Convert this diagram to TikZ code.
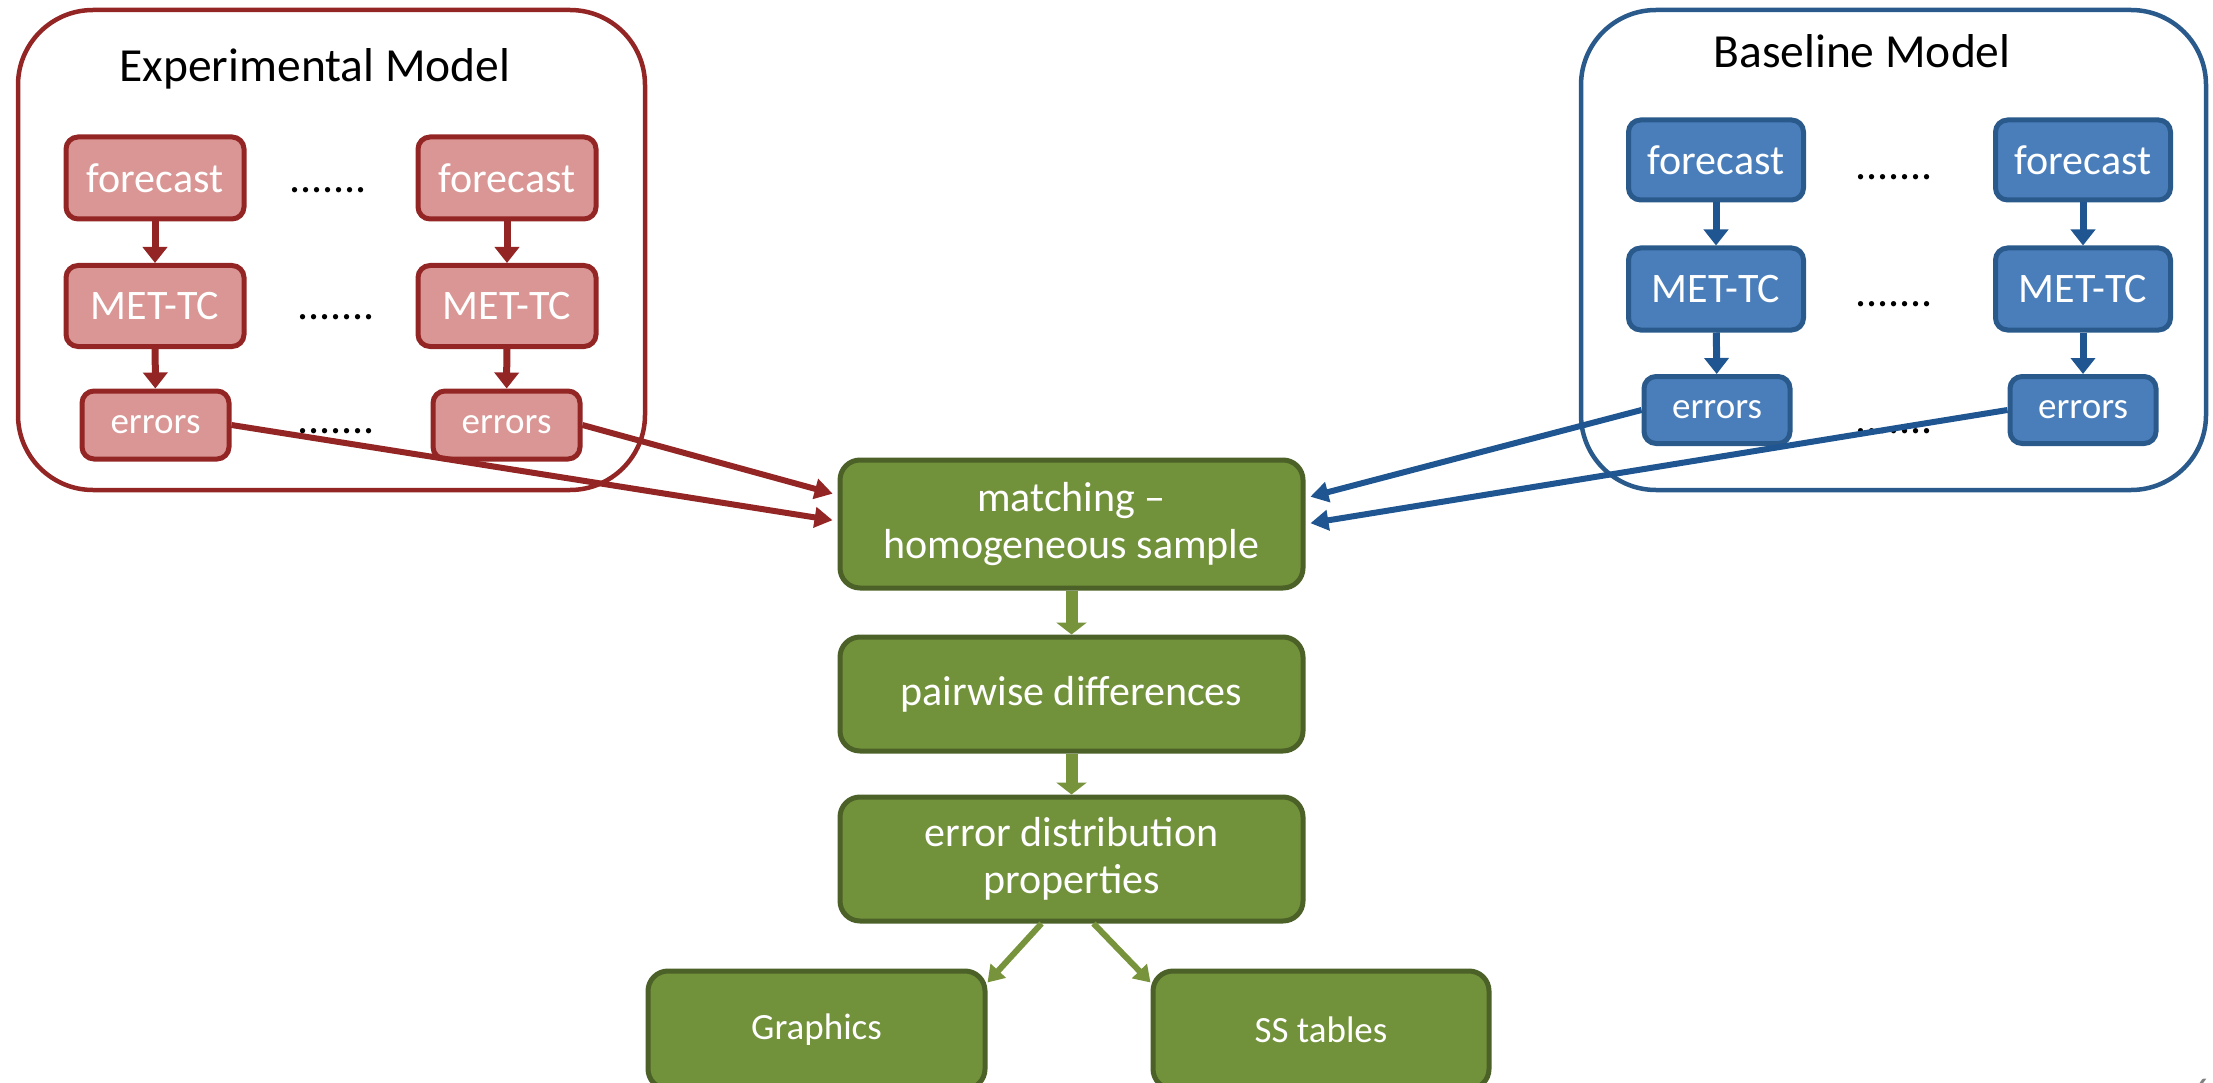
\documentclass[tikz,border=0pt]{standalone}
\usepackage{fontspec}
\setmainfont{Carlito}
\usetikzlibrary{arrows.meta}
\definecolor{redFill}{HTML}{D99694}
\definecolor{redLine}{HTML}{932525}
\definecolor{blueFill}{HTML}{4A7EBB}
\definecolor{blueLine}{HTML}{2A5A8C}
\definecolor{blueArrow}{HTML}{1F5590}
\definecolor{greenFill}{HTML}{71913A}
\definecolor{greenLine}{HTML}{4B6128}
\definecolor{greenArrow}{HTML}{77933C}
\begin{document}
\begin{tikzpicture}[x=1pt,y=-1pt,
  frame/.style={line width=4.5pt, rounded corners=75pt},
  smallbox/.style={line width=5pt, rounded corners=12pt, text=white, inner sep=0pt},
  redbox/.style={smallbox, draw=redLine, fill=redFill},
  bluebox/.style={smallbox, draw=blueLine, fill=blueFill},
  greenbox/.style={draw=greenLine, fill=greenFill, line width=5pt, rounded corners=20pt, text=white, inner sep=0pt, align=center, minimum width=463pt, font=\fontsize{42}{47}\selectfont},
  fcbox/.style={minimum width=178pt, minimum height=82pt, font=\fontsize{42}{50}\selectfont},
  erbox/.style={minimum width=147pt, minimum height=68pt, font=\fontsize{37}{45}\selectfont},
  title/.style={anchor=base, font=\fontsize{47.5}{56}\selectfont},
  dots/.style={font=\fontsize{44}{50}\selectfont, inner sep=0pt},
  redarrow/.style={draw=redLine, line width=7pt, -{Triangle[length=16pt,width=24pt]}},
  bluearrow/.style={draw=blueArrow, line width=7pt, -{Triangle[length=16pt,width=24pt]}},
  redconn/.style={draw=redLine, line width=6pt, -{Triangle[length=18pt,width=20pt]}, shorten >=5pt},
  blueconn/.style={draw=blueArrow, line width=6pt, -{Triangle[length=18pt,width=20pt]}, shorten >=5pt},
  greenarrow/.style={draw=greenArrow, line width=12pt, -{Triangle[length=12pt,width=30pt]}},
  greendiag/.style={draw=greenArrow, line width=6pt, -{Triangle[length=16pt,width=20pt]}}
]
\useasboundingbox (0,0) rectangle (2213,1083);

% model frames
\draw[frame, draw=redLine] (18,10) rectangle (645,490);
\draw[frame, draw=blueLine] (1581,10) rectangle (2206,490);
\node[title] (tExp) at (315,82) {Experimental Model};
\node[title] (tBase) at (1862,68) {Baseline Model};

% experimental model boxes
\node[redbox, fcbox] (fL) at (155,178) {forecast};
\node[redbox, fcbox] (fR) at (507,178) {forecast};
\node[redbox, fcbox, minimum height=81pt] (mL) at (155,306) {MET-TC};
\node[redbox, fcbox, minimum height=81pt] (mR) at (507,306) {MET-TC};
\node[redbox, erbox] (eL) at (155.5,425) {errors};
\node[redbox, erbox] (eR) at (506.5,425) {errors};
\node[dots] (d1) at (328,190) {.......};
\node[dots] (d2) at (336,317) {.......};
\node[dots] (d3) at (336,431) {.......};

% baseline model boxes
\node[bluebox, fcbox, minimum width=175pt, minimum height=80pt] (bfL) at (1716,160) {forecast};
\node[bluebox, fcbox, minimum width=175pt, minimum height=80pt] (bfR) at (2083,160) {forecast};
\node[bluebox, fcbox, minimum width=175pt, minimum height=82pt] (bmL) at (1716,289) {MET-TC};
\node[bluebox, fcbox, minimum width=175pt, minimum height=82pt] (bmR) at (2083,289) {MET-TC};
\node[bluebox, erbox, minimum width=146pt, minimum height=67pt] (beL) at (1717,410) {errors};
\node[bluebox, erbox, minimum width=146pt, minimum height=67pt] (beR) at (2083,410) {errors};
\node[dots] (bd1) at (1894,177) {.......};
\node[dots] (bd2) at (1894,304) {.......};
\node[dots] (bd3) at (1894,431) {.......};

% green pipeline
\node[greenbox, minimum height=128pt] (match) at (1071.5,524) {matching --\\homogeneous sample};
\node[greenbox, minimum height=114pt] (pair) at (1071.5,694) {pairwise differences};
\node[greenbox, minimum height=124pt] (errd) at (1071.5,859) {error distribution\\properties};
\node[greenbox, minimum width=337pt, minimum height=118pt, font=\fontsize{37}{42}\selectfont] (graph) at (816.5,1030) {Graphics};
\node[greenbox, minimum width=336pt, minimum height=118pt, font=\fontsize{37}{42}\selectfont] (sstab) at (1321,1030) {SS tables};

% page number
\node[anchor=north west, inner sep=0pt, text=gray, font=\fontsize{36}{42}\selectfont] (pg) at (2192,1079) {6};

% vertical arrows
\draw[redarrow] (fL) -- (mL);
\draw[redarrow] (mL) -- (eL);
\draw[redarrow] (fR) -- (mR);
\draw[redarrow] (mR) -- (eR);
\draw[bluearrow] (bfL) -- (bmL);
\draw[bluearrow] (bmL) -- (beL);
\draw[bluearrow] (bfR) -- (bmR);
\draw[bluearrow] (bmR) -- (beR);

% connectors to matching
\draw[redconn] (eL.east) -- ([yshift=3pt]match.west);
\draw[redconn] (eR.east) -- ([yshift=29pt]match.west);
\draw[blueconn] (beL.west) -- ([yshift=26pt]match.east);
\draw[blueconn] (beR.west) -- ([yshift=0pt]match.east);

% green arrows
\draw[greenarrow] (match) -- (pair);
\draw[greenarrow] (pair) -- (errd);
\draw[greendiag] ([xshift=-30pt]errd.south) -- ([yshift=-14pt]graph.north east);
\draw[greendiag] ([xshift=22pt]errd.south) -- ([yshift=-14pt]sstab.north west);
\end{tikzpicture}
\end{document}
